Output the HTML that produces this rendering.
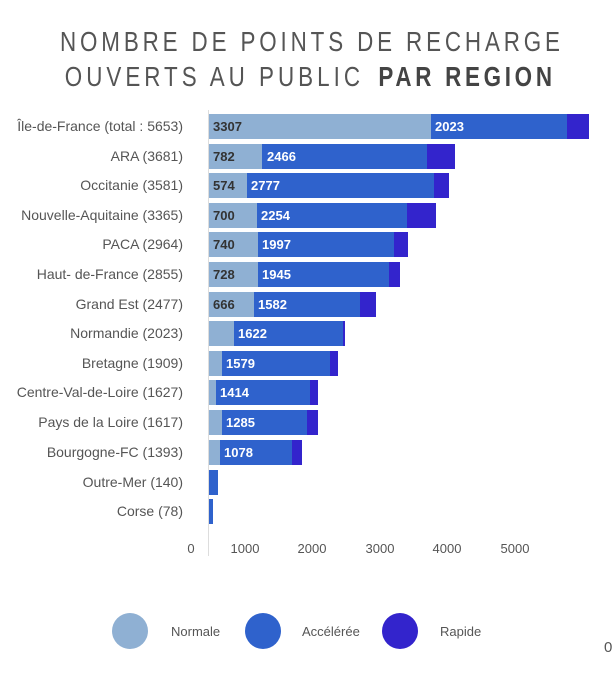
<!DOCTYPE html>
<html><head><meta charset="utf-8"><style>html,body{margin:0;padding:0;background:#fff}</style></head>
<body>
<svg width="614" height="676" xmlns="http://www.w3.org/2000/svg" font-family="'Liberation Sans',sans-serif">
<rect width="614" height="676" fill="#fff"/>
<g transform="scale(0.8,1)">
<text x="75" y="51" font-size="28" fill="#555" textLength="625" lengthAdjust="spacing">NOMBRE DE POINTS DE RECHARGE</text>
<text x="81" y="86" font-size="28" fill="#555" textLength="369" lengthAdjust="spacing">OUVERTS AU PUBLIC</text>
<text x="473" y="86" font-size="28" fill="#444" font-weight="bold" textLength="217" lengthAdjust="spacing">PAR REGION</text>
</g>
<line x1="208.5" y1="110" x2="208.5" y2="556" stroke="#ddd" stroke-width="1"/>
<g font-size="14" fill="#555" text-anchor="end">
<text x="183" y="131">Île-de-France (total : 5653)</text>
<text x="183" y="161">ARA (3681)</text>
<text x="183" y="190">Occitanie (3581)</text>
<text x="183" y="220">Nouvelle-Aquitaine (3365)</text>
<text x="183" y="249">PACA (2964)</text>
<text x="183" y="279">Haut- de-France (2855)</text>
<text x="183" y="309">Grand Est (2477)</text>
<text x="183" y="338">Normandie (2023)</text>
<text x="183" y="368">Bretagne (1909)</text>
<text x="183" y="397">Centre-Val-de-Loire (1627)</text>
<text x="183" y="427">Pays de la Loire (1617)</text>
<text x="183" y="457">Bourgogne-FC (1393)</text>
<text x="183" y="487">Outre-Mer (140)</text>
<text x="183" y="516">Corse (78)</text>
</g>
<g>
<rect x="209" y="114" width="222" height="25" fill="#8fb0d3"/><rect x="431" y="114" width="136" height="25" fill="#2f62cc"/><rect x="567" y="114" width="22" height="25" fill="#3324cc"/>
<rect x="209" y="144" width="53" height="25" fill="#8fb0d3"/><rect x="262" y="144" width="165" height="25" fill="#2f62cc"/><rect x="427" y="144" width="28" height="25" fill="#3324cc"/>
<rect x="209" y="173" width="38" height="25" fill="#8fb0d3"/><rect x="247" y="173" width="187" height="25" fill="#2f62cc"/><rect x="434" y="173" width="15" height="25" fill="#3324cc"/>
<rect x="209" y="203" width="48" height="25" fill="#8fb0d3"/><rect x="257" y="203" width="150" height="25" fill="#2f62cc"/><rect x="407" y="203" width="29" height="25" fill="#3324cc"/>
<rect x="209" y="232" width="49" height="25" fill="#8fb0d3"/><rect x="258" y="232" width="136" height="25" fill="#2f62cc"/><rect x="394" y="232" width="14" height="25" fill="#3324cc"/>
<rect x="209" y="262" width="49" height="25" fill="#8fb0d3"/><rect x="258" y="262" width="131" height="25" fill="#2f62cc"/><rect x="389" y="262" width="11" height="25" fill="#3324cc"/>
<rect x="209" y="292" width="45" height="25" fill="#8fb0d3"/><rect x="254" y="292" width="106" height="25" fill="#2f62cc"/><rect x="360" y="292" width="16" height="25" fill="#3324cc"/>
<rect x="209" y="321" width="25" height="25" fill="#8fb0d3"/><rect x="234" y="321" width="109" height="25" fill="#2f62cc"/><rect x="343" y="321" width="2" height="25" fill="#3324cc"/>
<rect x="209" y="351" width="13" height="25" fill="#8fb0d3"/><rect x="222" y="351" width="108" height="25" fill="#2f62cc"/><rect x="330" y="351" width="8" height="25" fill="#3324cc"/>
<rect x="209" y="380" width="7" height="25" fill="#8fb0d3"/><rect x="216" y="380" width="94" height="25" fill="#2f62cc"/><rect x="310" y="380" width="8" height="25" fill="#3324cc"/>
<rect x="209" y="410" width="13" height="25" fill="#8fb0d3"/><rect x="222" y="410" width="85" height="25" fill="#2f62cc"/><rect x="307" y="410" width="11" height="25" fill="#3324cc"/>
<rect x="209" y="440" width="11" height="25" fill="#8fb0d3"/><rect x="220" y="440" width="72" height="25" fill="#2f62cc"/><rect x="292" y="440" width="10" height="25" fill="#3324cc"/>
<rect x="209" y="470" width="9" height="25" fill="#2f62cc"/>
<rect x="209" y="499" width="4" height="25" fill="#2f62cc"/>
</g>
<g font-size="13" font-weight="bold">
<g fill="#333">
<text x="213" y="131">3307</text><text x="213" y="161">782</text><text x="213" y="190">574</text><text x="213" y="220">700</text><text x="213" y="249">740</text><text x="213" y="279">728</text><text x="213" y="309">666</text>
</g>
<g fill="#fff">
<text x="435" y="131">2023</text><text x="267" y="161">2466</text><text x="251" y="190">2777</text><text x="261" y="220">2254</text><text x="262" y="249">1997</text><text x="262" y="279">1945</text><text x="258" y="309">1582</text><text x="238" y="338">1622</text><text x="226" y="368">1579</text><text x="220" y="397">1414</text><text x="226" y="427">1285</text><text x="224" y="457">1078</text>
</g>
</g>
<g font-size="13" fill="#555" text-anchor="middle">
<text x="191" y="553">0</text><text x="245" y="553">1000</text><text x="312" y="553">2000</text><text x="380" y="553">3000</text><text x="447" y="553">4000</text><text x="515" y="553">5000</text>
</g>
<circle cx="130" cy="631" r="18" fill="#8fb0d3"/>
<circle cx="263" cy="631" r="18" fill="#2f62cc"/>
<circle cx="400" cy="631" r="18" fill="#3324cc"/>
<g font-size="13" fill="#555">
<text x="171" y="636">Normale</text><text x="302" y="636">Accélérée</text><text x="440" y="636">Rapide</text>
<text x="604" y="652" font-size="15">0</text>
</g>
</svg>
</body></html>
